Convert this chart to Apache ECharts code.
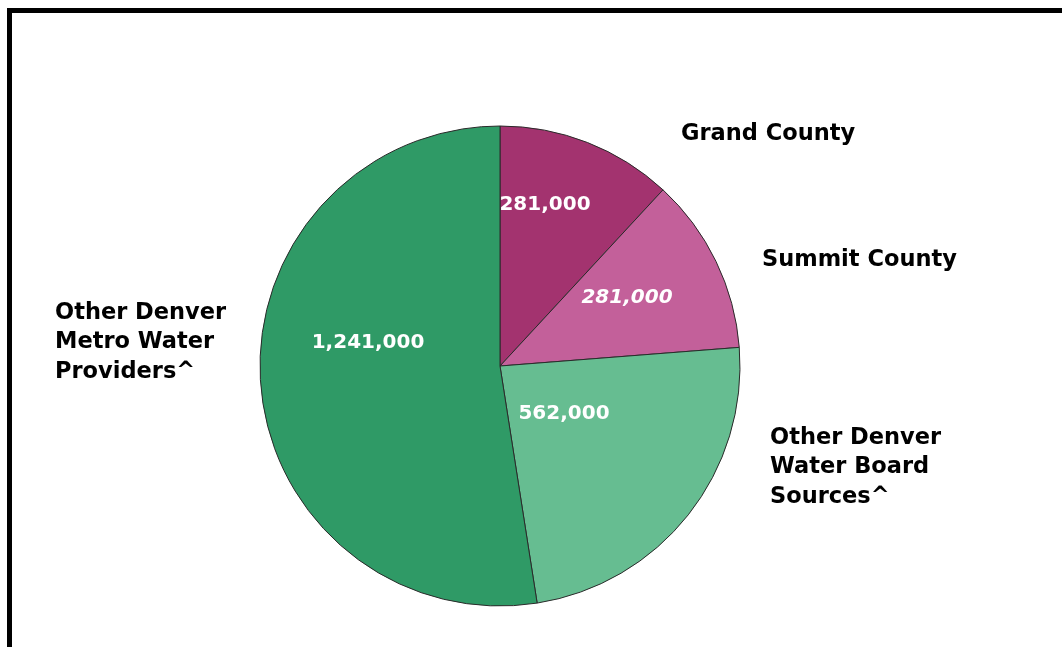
<!DOCTYPE html>
<html>
<head>
<meta charset="utf-8">
<script src="https://cdn.jsdelivr.net/npm/echarts@6/dist/echarts.min.js"></script>
<style>
  html, body { margin: 0; padding: 0; background: #fff; }
  #frame {
    position: absolute; left: 7px; top: 8px; width: 1060px; height: 645px;
    border-top: 5px solid #000; border-left: 5px solid #000;
  }
  #chart { position: absolute; left: 0; top: 0; width: 1062px; height: 647px; }
</style>
</head>
<body>
<div id="frame"></div>
<div id="chart"></div>
<script>
// data
const names = ['Grand County', 'Summit County', 'Other Denver\nWater Board\nSources^', 'Other Denver\nMetro Water\nProviders^']
const values = [281000, 281000, 562000, 1241000]
const colors = ['#a3336f', '#c3609a', '#66bd91', '#2f9a66']

// where the value labels and the name labels sit
const valuePos = [[545, 205], [627, 298], [564, 414], [368, 343]]
const namePos = [[681, 119], [762, 245], [770, 423], [55, 298]]

const fmt = v => v.toLocaleString('en-US')

let myChart = echarts.init(document.getElementById('chart'))
let pieData = names.map((n, i) => ({
  name: n,
  value: values[i],
  itemStyle: { color: colors[i] },
  label: i == 1 ? { fontStyle: 'italic' } : {}
}))

let option = {
  animation: false,
  series: [
    {
      type: 'pie',
      center: [500, 366],
      radius: 240,
      startAngle: 90,
      clockwise: true,
      data: pieData,
      itemStyle: { borderColor: '#2a2a2a', borderWidth: 1 },
      label: {
        position: 'inside',
        formatter: p => fmt(p.value),
        color: '#fff',
        fontFamily: 'DejaVu Sans',
        fontWeight: 'bold',
        fontSize: 20
      },
      labelLine: { show: false },
      labelLayout: p => ({
        x: valuePos[p.dataIndex][0],
        y: valuePos[p.dataIndex][1],
        align: 'center',
        verticalAlign: 'middle'
      })
    },
    {
      // second pass, only for the names round the pie
      type: 'pie',
      center: [500, 366],
      radius: 240,
      startAngle: 90,
      clockwise: true,
      silent: true,
      data: names.map((n, i) => ({ name: n, value: values[i] })),
      itemStyle: { color: 'rgba(0,0,0,0)' },
      label: {
        position: 'outside',
        formatter: '{b}',
        color: '#000',
        fontFamily: 'DejaVu Sans',
        fontWeight: 'bold',
        fontSize: 22.5,
        lineHeight: 29.5
      },
      labelLine: { show: false },
      labelLayout: p => ({
        x: namePos[p.dataIndex][0],
        y: namePos[p.dataIndex][1],
        align: 'left',
        verticalAlign: 'top'
      })
    }
  ]
}
myChart.setOption(option)
</script>
</body>
</html>
